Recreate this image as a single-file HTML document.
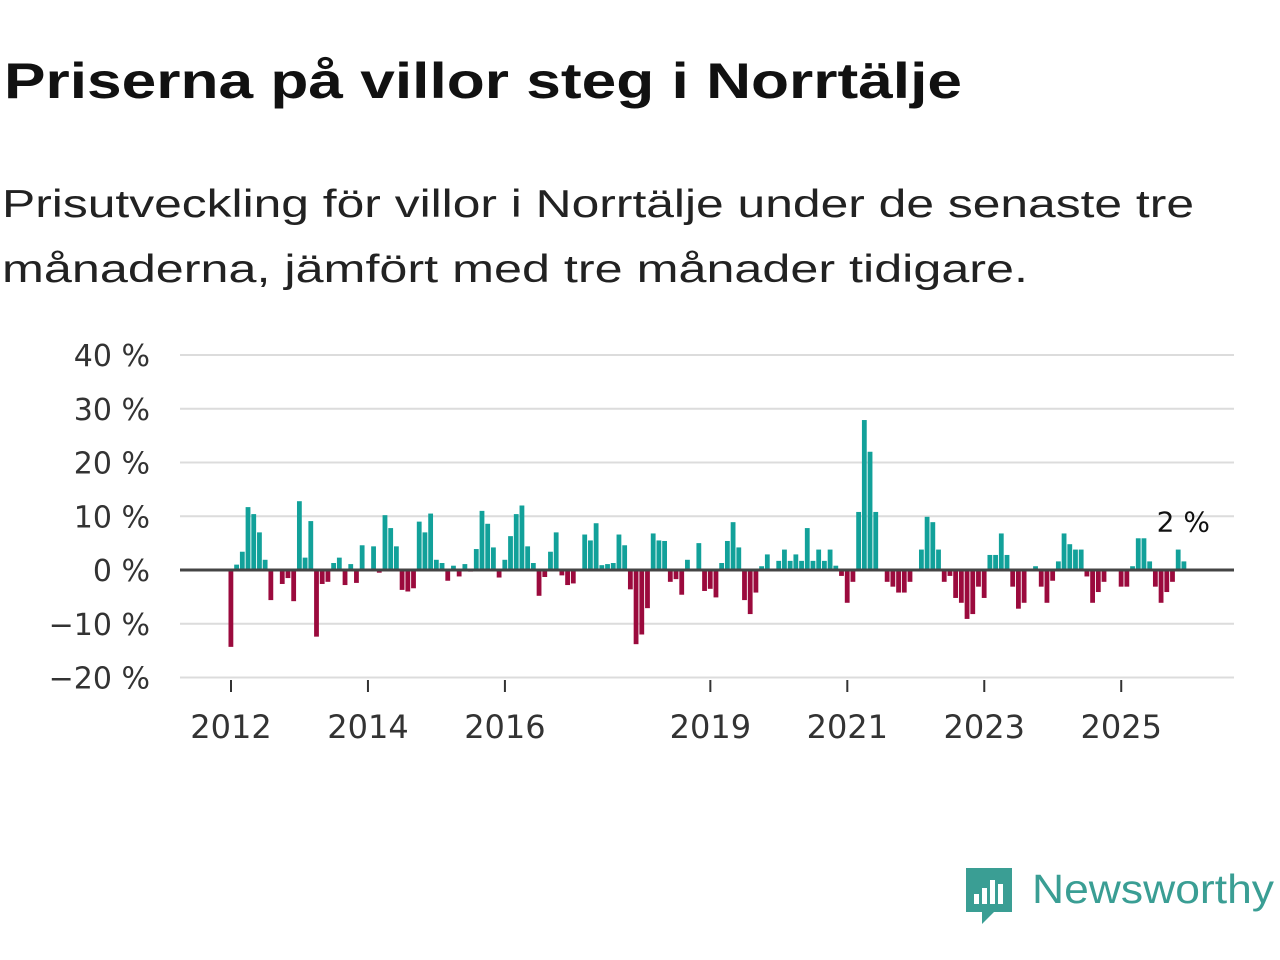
<!DOCTYPE html>
<html><head><meta charset="utf-8"><style>
body{margin:0;background:#fff;}
svg{display:block;font-family:"Liberation Sans",sans-serif;}
</style></head><body>
<svg id="chart" width="1280" height="960" viewBox="0 0 1280 960" xmlns="http://www.w3.org/2000/svg">
<text x="4" y="98" font-size="50" font-weight="bold" fill="#111" textLength="958" lengthAdjust="spacingAndGlyphs">Priserna på villor steg i Norrtälje</text>
<text x="2" y="217" font-size="39" fill="#222" textLength="1192" lengthAdjust="spacingAndGlyphs">Prisutveckling för villor i Norrtälje under de senaste tre</text>
<text x="2" y="282" font-size="39" fill="#222" textLength="1026" lengthAdjust="spacingAndGlyphs">månaderna, jämfört med tre månader tidigare.</text>
<g id="grid"></g><g id="bars"></g><g id="axes"></g>
<g>
<path d="M966 868 h46 v44 h-18 l-12 12 v-12 h-16 z" fill="#3a9e94"/>
<rect x="974" y="894" width="5" height="10" fill="#fff"/><rect x="982" y="888" width="5" height="16" fill="#fff"/><rect x="990" y="880" width="5" height="24" fill="#fff"/><rect x="998" y="884" width="5" height="20" fill="#fff"/>
<text x="1032" y="903" font-size="41" fill="#3a9e94" textLength="242" lengthAdjust="spacingAndGlyphs">Newsworthy</text>
</g>
</svg>
<script>
const values = [-14.3,1,3.4,11.7,10.4,7,1.9,-5.6,0,-2.6,-1.5,-5.8,
12.8,2.3,9.1,-12.4,-2.6,-2.2,1.3,2.3,-2.8,1.1,-2.4,4.6,
0,4.4,-0.5,10.2,7.8,4.4,-3.7,-4,-3.4,9,7,10.5,
1.9,1.3,-2,0.8,-1.2,1.1,-0.3,3.9,11,8.6,4.2,-1.4,
1.9,6.3,10.4,12,4.4,1.3,-4.8,-1.3,3.4,7,-1,-2.8,
-2.5,0,6.6,5.5,8.7,0.9,1.1,1.3,6.6,4.6,-3.6,-13.8,
-12,-7.1,6.8,5.5,5.4,-2.2,-1.7,-4.6,1.9,0,5,-3.9,
-3.5,-5.1,1.3,5.4,8.9,4.2,-5.6,-8.2,-4.2,0.7,2.9,0,
1.7,3.8,1.7,2.9,1.7,7.8,1.7,3.8,1.7,3.8,0.8,-1.1,
-6.1,-2.2,10.8,27.9,22,10.8,0,-2.2,-3.1,-4.2,-4.2,-2.2,
0,3.8,9.9,8.9,3.8,-2.2,-1.1,-5.2,-6.1,-9.1,-8.2,-3.1,
-5.2,2.8,2.8,6.8,2.8,-3.1,-7.2,-6.1,0,0.7,-3.1,-6.1,
-2,1.6,6.8,4.8,3.8,3.8,-1.2,-6.1,-4.1,-2.2,0,0,
-3.1,-3.1,0.7,5.9,5.9,1.6,-3.1,-6.1,-4.1,-2.2,3.8,1.6];
const startYear = 2012;
const yTicks = [40,30,20,10,0,-10,-20];
const xTickYears = [2012,2014,2016,2019,2021,2023,2025];
const lastLabel = "2 %";

const NS="http://www.w3.org/2000/svg";
const y = v => 570 - v*5.375;
const step = (1184-231)/167;
const x = i => 231 + i*step;
function mk(tag, attrs, parent){const e=document.createElementNS(NS,tag);for(const k in attrs)e.setAttribute(k,attrs[k]);parent.appendChild(e);return e;}
const grid=document.getElementById('grid'), bars=document.getElementById('bars'), axes=document.getElementById('axes');
const lblFont='"DejaVu Sans","Liberation Sans",sans-serif';
yTicks.forEach(t=>{
  if(t!==0){const l=mk('line',{x1:180,x2:1234,y1:y(t),y2:y(t),stroke:'#dcdcdc','stroke-width':2},grid);
  
  }
  const tx=mk('text',{x:150,y:y(t)+11,'text-anchor':'end','font-size':30,'font-family':lblFont,fill:'#333'},axes);
  tx.textContent=(t<0?'\u2212'+(-t):t)+' %';
  
  
});
values.forEach((v,i)=>{
  const r=mk('rect',{x:x(i)-2.5,width:4.8,y:Math.min(y(v),y(0)),height:Math.abs(y(v)-y(0)),fill:v>=0?'#12a19a':'#9b0a3d'},bars);
  
  
});
const zl=mk('line',{x1:180,x2:1234,y1:y(0),y2:y(0),stroke:'#444','stroke-width':3},axes);


xTickYears.forEach(yr=>{
  const xi=x((yr-startYear)*12);
  const tk=mk('line',{x1:xi,x2:xi,y1:680,y2:692,stroke:'#333','stroke-width':2},axes);
  
  
  const tx=mk('text',{x:xi,y:738,'text-anchor':'middle','font-size':32,'font-family':lblFont,fill:'#333'},axes);
  tx.textContent=yr;
  
  
});
const li=values.length-1;
const lab=mk('text',{x:x(li)+26,y:y(values[li])-30,'text-anchor':'end','font-size':28,'font-family':lblFont,fill:'#111'},axes);
lab.textContent=lastLabel;


</script>
</body></html>
